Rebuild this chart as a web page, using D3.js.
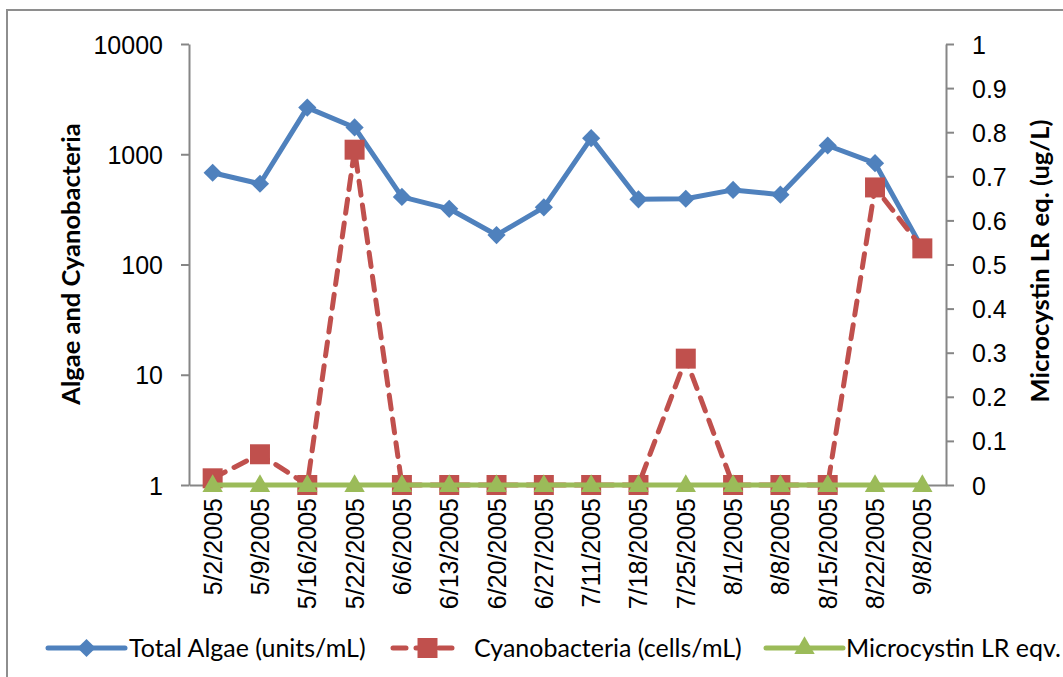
<!DOCTYPE html>
<html>
<head>
<meta charset="utf-8">
<script src="https://cdn.jsdelivr.net/npm/d3@7"></script>
<style>
  body { margin: 0; background: #fff; }
  svg { display: block; font-family: Lato, "Open Sans", sans-serif; }
  .axis path, .axis line { stroke: #868686; stroke-width: 2; }
  .axis text { fill: #000; font-size: 25px; }
</style>
</head>
<body>
<svg></svg>
<script>
const svgWidth = 1063;
const svgHeight = 677;

// sample dates
const dates = ["5/2/2005", "5/9/2005", "5/16/2005", "5/22/2005", "6/6/2005", "6/13/2005",
  "6/20/2005", "6/27/2005", "7/11/2005", "7/18/2005", "7/25/2005", "8/1/2005",
  "8/8/2005", "8/15/2005", "8/22/2005", "9/8/2005"];
const totalAlgae = [680, 540, 2650, 1750, 410, 320, 185, 330, 1400, 390, 395, 475, 430, 1200, 830, 140];
const cyanobacteria = [1.15, 1.9, 1, 1100, 1, 1, 1, 1, 1, 1, 14, 1, 1, 1, 500, 140];
const microcystin = [0, 0, 0, 0, 0, 0, 0, 0, 0, 0, 0, 0, 0, 0, 0, 0];
const leftTicks = [1, 10, 100, 1000, 10000];
const rightTicks = [0, 0.1, 0.2, 0.3, 0.4, 0.5, 0.6, 0.7, 0.8, 0.9, 1];

const blue = "#4f81bd", red = "#c0504d", green = "#9bbb59";

const svg = d3.select("svg")
  .attr("width", svgWidth)
  .attr("height", svgHeight);

// chart border (runs off the right/bottom edge like the screenshot)
svg.append("rect")
  .attr("x", 7).attr("y", 10)
  .attr("width", 1200).attr("height", 800)
  .attr("fill", "none")
  .attr("stroke", "#8e8e8e")
  .attr("stroke-width", 2);

const plotLeft = 189, plotRight = 946, plotTop = 44, plotBottom = 485;

const x = d3.scaleBand().domain(dates).range([plotLeft, plotRight]);
const yL = d3.scaleLog().domain([1, 10000]).range([plotBottom, plotTop]);
const yR = d3.scaleLinear().domain([0, 1]).range([plotBottom, plotTop]);
const cx = d => x(d) + x.bandwidth() / 2;

// axes
svg.append("g")
  .attr("class", "axis")
  .attr("transform", "translate(" + plotLeft + ",0)")
  .call(d3.axisLeft(yL).tickValues(leftTicks).tickFormat(d3.format("d"))
    .tickSize(8).tickSizeOuter(0).tickPadding(18))
  .selectAll("text").attr("dy", "0.36em");

svg.append("g")
  .attr("class", "axis")
  .attr("transform", "translate(" + plotRight + ",0)")
  .call(d3.axisRight(yR).tickValues(rightTicks).tickFormat(d3.format("~g"))
    .tickSize(8).tickSizeOuter(0).tickPadding(18))
  .selectAll("text").attr("dy", "0.36em");

const xAxis = svg.append("g")
  .attr("class", "axis")
  .attr("transform", "translate(0," + plotBottom + ")")
  .call(d3.axisBottom(x).tickSize(0).tickSizeOuter(0));
xAxis.selectAll("text")
  .attr("transform", "rotate(-90)")
  .attr("text-anchor", "end")
  .attr("x", -13)
  .attr("y", 0)
  .attr("dy", "0.36em");

// axis titles
svg.append("text")
  .attr("transform", "translate(71,264) rotate(-90)")
  .attr("text-anchor", "middle")
  .attr("dy", "0.36em")
  .style("font-size", "25.5px")
  .style("font-weight", "bold")
  .text("Algae and Cyanobacteria");

svg.append("text")
  .attr("transform", "translate(1040,261) rotate(-90)")
  .attr("text-anchor", "middle")
  .attr("dy", "0.36em")
  .style("font-size", "25.5px")
  .style("font-weight", "bold")
  .text("Microcystin LR eq. (ug/L)");

// series
const diamond = d3.symbol().type(d3.symbolSquare).size(165);
const square = d3.symbol().type(d3.symbolSquare).size(400);
const triangle = d3.symbol().type(d3.symbolTriangle).size(180);

const lineL = d3.line().x((d, i) => cx(dates[i])).y(d => yL(d));
const lineR = d3.line().x((d, i) => cx(dates[i])).y(d => yR(d));

svg.append("path")
  .attr("d", lineL(totalAlgae))
  .attr("fill", "none").attr("stroke", blue)
  .attr("stroke-width", 5).attr("stroke-linejoin", "round");
svg.selectAll(".algae")
  .data(totalAlgae)
  .enter()
  .append("path")
  .attr("class", "algae")
  .attr("d", diamond)
  .attr("fill", blue)
  .attr("transform", (d, i) => "translate(" + cx(dates[i]) + "," + yL(d) + ") rotate(45)");

svg.append("path")
  .attr("d", lineL(cyanobacteria))
  .attr("fill", "none").attr("stroke", red)
  .attr("stroke-width", 5).attr("stroke-dasharray", "14,10")
  .attr("stroke-linecap", "round");
svg.selectAll(".cyano")
  .data(cyanobacteria)
  .enter()
  .append("path")
  .attr("class", "cyano")
  .attr("d", square)
  .attr("fill", red)
  .attr("transform", (d, i) => "translate(" + cx(dates[i]) + "," + yL(d) + ")");

svg.append("path")
  .attr("d", lineR(microcystin))
  .attr("fill", "none").attr("stroke", green)
  .attr("stroke-width", 5);
svg.selectAll(".micro")
  .data(microcystin)
  .enter()
  .append("path")
  .attr("class", "micro")
  .attr("d", triangle)
  .attr("fill", green)
  .attr("transform", (d, i) => "translate(" + cx(dates[i]) + "," + (yR(d) + 1) + ")");

// legend
const legendY = 648;
const legend = [
  { name: "Total Algae (units/mL)", color: blue, x0: 48, x1: 125, tx: 129, mark: diamond, rot: 45, dash: null },
  { name: "Cyanobacteria (cells/mL)", color: red, x0: 393, x1: 462, tx: 474, mark: square, rot: 0, dash: "13,10" },
  { name: "Microcystin LR eqv.", color: green, x0: 766, x1: 843, tx: 846, mark: triangle, rot: 0, dash: null }
];
const lg = svg.selectAll(".legend")
  .data(legend)
  .enter()
  .append("g")
  .attr("class", "legend");
lg.append("line")
  .attr("x1", d => d.x0).attr("x2", d => d.x1)
  .attr("y1", legendY).attr("y2", legendY)
  .attr("stroke", d => d.color)
  .attr("stroke-width", 5)
  .attr("stroke-linecap", "round")
  .attr("stroke-dasharray", d => d.dash);
lg.append("path")
  .attr("d", d => d.mark())
  .attr("fill", d => d.color)
  .attr("transform", d => "translate(" + ((d.x0 + d.x1) / 2) + "," + legendY + ") rotate(" + d.rot + ")");
lg.append("text")
  .attr("x", d => d.tx)
  .attr("y", legendY)
  .attr("dy", "0.36em")
  .style("font-size", "25px")
  .text(d => d.name);
</script>
</body>
</html>
